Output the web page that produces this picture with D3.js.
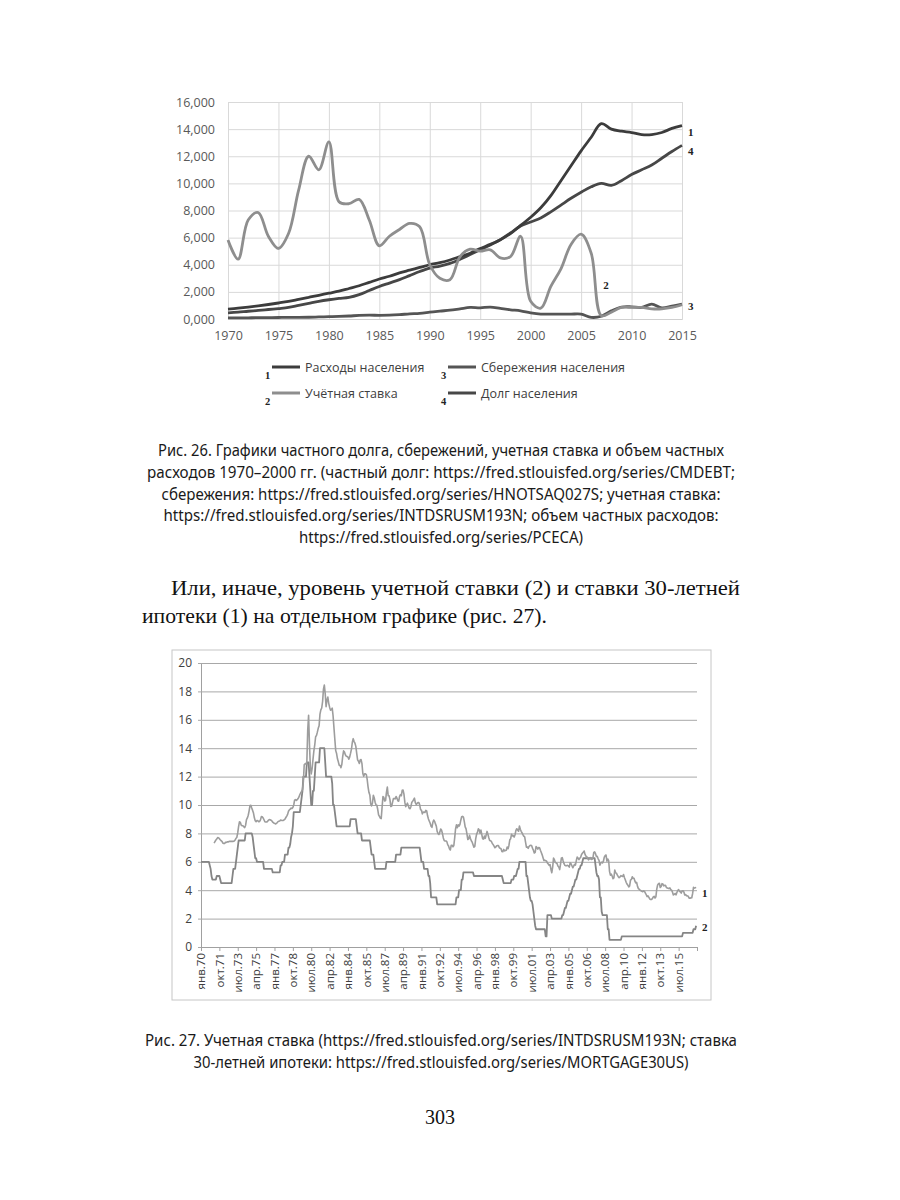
<!DOCTYPE html>
<html><head><meta charset="utf-8">
<script src="https://cdn.jsdelivr.net/npm/d3@7"></script>
<style>body{margin:0;background:#fff}svg{display:block}</style>
</head><body>
<svg id="page" width="900" height="1200"></svg>
<script>
// ================= DATA: Figure 26 (annual, thousands) =================
const years1 = [1970,1971,1972,1973,1974,1975,1976,1977,1978,1979,
  1980,1981,1982,1983,1984,1985,1986,1987,1988,1989,
  1990,1991,1992,1993,1994,1995,1996,1997,1998,1999,
  2000,2001,2002,2003,2004,2005,2006,2007,2008,2009,
  2010,2011,2012,2013,2014,2015];
// 1 — Расходы населения
const spending = [0.73,0.80,0.88,0.97,1.07,1.18,1.30,1.45,1.60,1.75,
  1.90,2.05,2.25,2.45,2.70,2.95,3.15,3.40,3.60,3.80,
  4.00,4.15,4.35,4.60,4.85,5.20,5.50,5.85,6.30,6.90,
  7.50,8.20,9.10,10.20,11.30,12.40,13.40,14.40,14.00,13.85,
  13.75,13.60,13.60,13.75,14.05,14.25];
// 2 — Учётная ставка
const discountAnnual = [5.83,4.41,7.30,7.85,6.10,5.20,6.30,9.50,12.00,11.00,
  13.06,8.65,8.50,8.82,7.30,5.40,6.10,6.60,7.05,6.80,
  4.00,3.00,2.90,4.60,5.15,5.00,5.10,4.50,4.60,6.10,
  1.30,0.80,2.40,3.70,5.50,6.25,4.85,0.25,0.50,0.85,
  0.85,0.85,0.75,0.75,0.85,1.05];
// 3 — Сбережения населения
const savings = [0.08,0.08,0.09,0.10,0.10,0.11,0.12,0.12,0.13,0.15,
  0.17,0.19,0.22,0.26,0.28,0.27,0.28,0.32,0.38,0.42,
  0.50,0.58,0.65,0.75,0.85,0.82,0.88,0.78,0.68,0.60,
  0.45,0.36,0.36,0.36,0.36,0.36,0.12,0.20,0.60,0.88,
  0.90,0.85,1.10,0.82,0.95,1.10];
// 4 — Долг населения
const debt = [0.45,0.50,0.57,0.63,0.70,0.77,0.85,1.00,1.15,1.30,
  1.42,1.52,1.60,1.80,2.10,2.40,2.65,2.90,3.20,3.50,
  3.75,3.90,4.10,4.40,4.75,5.10,5.45,5.85,6.35,6.85,
  7.15,7.45,7.90,8.40,8.90,9.35,9.75,10.00,9.85,10.20,
  10.65,11.00,11.35,11.85,12.35,12.80];
const xTicks1 = [1970,1975,1980,1985,1990,1995,2000,2005,2010,2015];
const yTicks1 = [0,2,4,6,8,10,12,14,16];
const yTickLabels1 = ["0,000","2,000","4,000","6,000","8,000","10,000","12,000","14,000","16,000"];
const legend1 = [
  {id:"s1", num:"1", name:"Расходы населения"},
  {id:"s3", num:"3", name:"Сбережения населения"},
  {id:"s2", num:"2", name:"Учётная ставка"},
  {id:"s4", num:"4", name:"Долг населения"}
];

// ================= DATA: Figure 27 (monthly, %, Jan 1970 – Mar 2017) =================
// 2 — discount rate, one row per year
const discountMonthly = [
  6,6,6,6,6,6,6,6,6,6,5.75,5.5,
  5,4.75,4.75,4.75,4.75,4.75,5,5,5,5,4.75,4.5,
  4.5,4.5,4.5,4.5,4.5,4.5,4.5,4.5,4.5,4.5,4.5,4.5,
  5,5.5,5.5,5.5,6,6.5,7,7.5,7.5,7.5,7.5,7.5,
  7.5,7.5,7.5,8,8,8,8,8,8,8,8,7.75,
  7.25,6.75,6.25,6.25,6,6,6,6,6,6,6,6,
  5.5,5.5,5.5,5.5,5.5,5.5,5.5,5.5,5.5,5.5,5.25,5.25,
  5.25,5.25,5.25,5.25,5.25,5.25,5.25,5.75,5.75,6,6,6,
  6.5,6.5,6.5,6.5,7,7,7.25,7.75,8,8.5,9.5,9.5,
  9.5,9.5,9.5,9.5,9.5,9.5,10,10.5,11,12,12,12,
  12,13,13,13,12,11,10,10,11,11,12,13,
  13,13,13,13,14,14,14,14,14,14,13,12,
  12,12,12,12,12,12,11.5,10,10,9.5,9,8.5,
  8.5,8.5,8.5,8.5,8.5,8.5,8.5,8.5,8.5,8.5,8.5,8.5,
  8.5,8.5,8.5,9,9,9,9,9,9,9,8.5,8,
  8,8,8,8,7.5,7.5,7.5,7.5,7.5,7.5,7.5,7.5,
  7.5,7.5,7,6.5,6.5,6.5,6,5.5,5.5,5.5,5.5,5.5,
  5.5,5.5,5.5,5.5,5.5,5.5,5.5,5.5,6,6,6,6,
  6,6,6,6,6,6,6,6.5,6.5,6.5,6.5,6.5,
  6.5,7,7,7,7,7,7,7,7,7,7,7,
  7,7,7,7,7,7,7,7,7,7,7,6.5,
  6,6,6,5.5,5.5,5.5,5.5,5.5,5,5,4.5,3.5,
  3.5,3.5,3.5,3.5,3.5,3.5,3,3,3,3,3,3,
  3,3,3,3,3,3,3,3,3,3,3,3,
  3,3,3,3,3.5,3.5,3.5,4,4,4,4.75,4.75,
  5.25,5.25,5.25,5.25,5.25,5.25,5.25,5.25,5.25,5.25,5.25,5.25,
  5,5,5,5,5,5,5,5,5,5,5,5,
  5,5,5,5,5,5,5,5,5,5,5,5,
  5,5,5,5,5,5,5,5,5,4.75,4.5,4.5,
  4.5,4.5,4.5,4.5,4.5,4.5,4.5,4.75,4.75,4.75,5,5,
  5,5.25,5.5,5.5,6,6,6,6,6,6,6,6,
  5,5,4.5,4,3.5,3.25,3.25,3,2.5,2,1.5,1.25,
  1.25,1.25,1.25,1.25,1.25,1.25,1.25,1.25,1.25,1.25,0.75,0.75,
  2.25,2.25,2.25,2.25,2.25,2,2,2,2,2,2,2,
  2,2,2,2,2,2.25,2.25,2.5,2.75,2.75,3,3.25,
  3.25,3.5,3.75,3.75,4,4.25,4.25,4.5,4.75,4.75,5,5.25,
  5.5,5.5,5.75,5.75,6,6.25,6.25,6.25,6.25,6.25,6.25,6.25,
  6.25,6.25,6.25,6.25,6.25,6.25,6.25,5.75,5.25,5,5,4.75,
  3.5,3.5,2.5,2.25,2.25,2.25,2.25,2.25,2.25,1.25,1.25,0.5,
  0.5,0.5,0.5,0.5,0.5,0.5,0.5,0.5,0.5,0.5,0.5,0.5,
  0.5,0.75,0.75,0.75,0.75,0.75,0.75,0.75,0.75,0.75,0.75,0.75,
  0.75,0.75,0.75,0.75,0.75,0.75,0.75,0.75,0.75,0.75,0.75,0.75,
  0.75,0.75,0.75,0.75,0.75,0.75,0.75,0.75,0.75,0.75,0.75,0.75,
  0.75,0.75,0.75,0.75,0.75,0.75,0.75,0.75,0.75,0.75,0.75,0.75,
  0.75,0.75,0.75,0.75,0.75,0.75,0.75,0.75,0.75,0.75,0.75,0.75,
  0.75,0.75,0.75,0.75,0.75,0.75,0.75,0.75,0.75,0.75,0.75,1,
  1,1,1,1,1,1,1,1,1,1,1,1.25,
  1.25,1.25,1.5
];
// 1 — 30-year mortgage rate (series starts Apr 1971)
const mortgageMonthly = [
  null,null,null,null,null,null,null,null,null,null,null,null,
  null,null,null,7.31,7.43,7.53,7.60,7.70,7.69,7.63,7.55,7.48,
  7.44,7.32,7.29,7.29,7.37,7.37,7.40,7.40,7.43,7.45,7.44,7.44,
  7.44,7.44,7.46,7.54,7.65,7.73,8.05,8.50,8.82,8.77,8.58,8.54,
  8.54,8.46,8.41,8.58,8.97,9.09,9.28,9.59,9.96,9.98,9.79,9.62,
  9.43,9.10,8.89,8.82,8.91,8.89,8.82,8.84,8.95,9.18,9.17,9.09,
  8.96,8.82,8.80,8.80,8.84,8.92,8.97,8.96,8.93,8.88,8.79,8.74,
  8.72,8.67,8.69,8.75,8.83,8.86,8.87,8.94,8.92,8.91,8.91,8.96,
  9.01,9.12,9.22,9.34,9.56,9.66,9.71,9.78,9.75,9.83,10.00,10.34,
  10.38,10.32,10.37,10.45,10.57,10.74,10.86,10.96,11.08,11.64,12.83,12.90,
  12.88,13.04,15.28,16.32,14.26,12.71,12.19,12.56,13.20,13.79,14.21,14.79,
  14.90,15.13,15.40,15.58,16.40,16.70,16.83,17.29,18.16,18.45,17.83,16.92,
  17.40,17.60,17.16,16.89,16.68,16.70,16.82,16.27,15.43,14.61,13.83,13.62,
  13.25,13.04,12.80,12.78,12.63,12.87,13.42,13.81,13.73,13.54,13.44,13.42,
  13.37,13.23,13.39,13.65,13.94,14.42,14.67,14.47,14.35,14.13,13.64,13.18,
  13.08,12.92,13.17,13.20,12.91,12.22,12.03,12.19,12.19,12.14,11.78,11.26,
  10.88,10.71,10.08,9.94,10.14,10.68,10.51,10.20,10.01,9.98,9.70,9.31,
  9.20,9.08,9.04,9.83,10.60,10.54,10.28,10.33,10.89,11.26,10.65,10.64,
  10.38,9.89,9.93,10.20,10.46,10.46,10.43,10.60,10.48,10.30,10.27,10.61,
  10.73,10.65,11.03,11.05,10.77,10.20,9.88,9.99,10.13,9.95,9.77,9.74,
  9.90,10.20,10.27,10.37,10.48,10.16,10.04,10.10,10.18,10.18,10.01,9.67,
  9.64,9.37,9.50,9.49,9.47,9.62,9.58,9.24,9.01,8.86,8.71,8.50,
  8.43,8.76,8.94,8.85,8.67,8.51,8.13,7.98,7.92,8.09,8.31,8.22,
  7.99,7.68,7.50,7.47,7.47,7.42,7.21,7.11,6.91,6.83,7.16,7.17,
  7.06,7.15,7.68,8.32,8.60,8.40,8.61,8.51,8.64,8.93,9.17,9.20,
  9.15,8.83,8.46,8.32,7.96,7.57,7.61,7.86,7.64,7.48,7.38,7.20,
  7.03,7.08,7.62,7.93,8.07,8.32,8.25,8.00,8.23,7.92,7.62,7.60,
  7.82,7.65,7.90,8.14,7.94,7.69,7.50,7.48,7.43,7.29,7.21,7.10,
  6.99,7.04,7.13,7.14,7.14,7.00,6.95,6.92,6.72,6.71,6.87,6.77,
  6.79,6.81,7.04,6.92,7.15,7.55,7.63,7.94,7.82,7.85,7.74,7.91,
  8.21,8.33,8.24,8.15,8.52,8.29,8.15,8.03,7.91,7.80,7.75,7.38,
  7.03,7.05,6.95,7.08,7.15,7.16,7.13,6.95,6.82,6.62,6.66,7.07,
  7.00,6.89,7.01,6.99,6.81,6.65,6.49,6.29,6.09,6.11,6.07,6.05,
  5.92,5.84,5.75,5.81,5.48,5.23,5.63,6.26,6.15,5.95,5.93,5.88,
  5.71,5.64,5.45,5.83,6.27,6.29,6.06,5.87,5.75,5.72,5.73,5.75,
  5.71,5.63,5.93,5.86,5.72,5.58,5.70,5.82,5.77,6.07,6.33,6.27,
  6.15,6.25,6.32,6.51,6.60,6.68,6.76,6.52,6.40,6.36,6.24,6.14,
  6.22,6.29,6.16,6.18,6.26,6.66,6.70,6.57,6.38,6.38,6.21,6.10,
  5.76,5.92,5.97,5.92,6.04,6.32,6.43,6.48,6.04,6.20,6.09,5.33,
  5.06,5.13,5.00,4.81,4.86,5.42,5.22,5.19,5.06,4.95,4.88,4.93,
  5.03,4.99,4.97,5.10,4.89,4.74,4.56,4.43,4.35,4.23,4.30,4.71,
  4.76,4.95,4.84,4.84,4.64,4.51,4.55,4.27,4.11,4.07,3.99,3.96,
  3.92,3.89,3.95,3.91,3.80,3.68,3.55,3.60,3.50,3.38,3.35,3.35,
  3.41,3.53,3.57,3.45,3.54,4.07,4.37,4.46,4.49,4.19,4.26,4.46,
  4.43,4.30,4.34,4.34,4.19,4.16,4.13,4.12,4.16,4.04,4.00,3.86,
  3.67,3.71,3.77,3.67,3.84,3.98,4.05,3.91,3.89,3.80,3.94,3.96,
  3.87,3.66,3.69,3.61,3.60,3.57,3.44,3.44,3.46,3.47,3.77,4.20,
  4.15,4.17,4.20
];
const xTickLabels2 = ["янв.70","окт.71","июл.73","апр.75","янв.77","окт.78","июл.80","апр.82",
  "янв.84","окт.85","июл.87","апр.89","янв.91","окт.92","июл.94","апр.96","янв.98","окт.99",
  "июл.01","апр.03","янв.05","окт.06","июл.08","апр.10","янв.12","окт.13","июл.15"];
const monthsPerLabel2 = 21;
const yTicks2 = [0,2,4,6,8,10,12,14,16,18,20];

// ================= TEXT =================
const caption26 = [
  "Рис. 26. Графики частного долга, сбережений, учетная ставка и объем частных",
  "расходов 1970–2000 гг. (частный долг: https://fred.stlouisfed.org/series/CMDEBT;",
  "сбережения: https://fred.stlouisfed.org/series/HNOTSAQ027S; учетная ставка:",
  "https://fred.stlouisfed.org/series/INTDSRUSM193N; объем частных расходов:",
  "https://fred.stlouisfed.org/series/PCECA)"
];
const bodyText = [
  "Или, иначе, уровень учетной ставки (2) и ставки 30-летней",
  "ипотеки (1) на отдельном графике (рис. 27)."
];
const caption27 = [
  "Рис. 27.  Учетная ставка (https://fred.stlouisfed.org/series/INTDSRUSM193N; ставка",
  "30-летней ипотеки: https://fred.stlouisfed.org/series/MORTGAGE30US)"
];
const pageNumber = "303";

// ================= DRAW =================
const svg = d3.select("#page");
svg.append("rect").attr("width",900).attr("height",1200).attr("fill","#fff");
const sansUI = "'Open Sans','Noto Sans',sans-serif";

// ---- Figure 26
const style1 = {
  s1:{stroke:"#3c3c3c", w:2.8},
  s2:{stroke:"#8e8e8e", w:2.8},
  s3:{stroke:"#555555", w:2.8},
  s4:{stroke:"#474747", w:2.8}
};
const L1 = 228, R1 = 682, T1 = 102, B1 = 319;
const x1 = d3.scaleLinear().domain([1970,2015]).range([L1,R1]);
const y1 = d3.scaleLinear().domain([0,16]).range([B1,T1]);
const g1 = svg.append("g");

g1.append("g").attr("transform",`translate(${L1},0)`)
  .call(d3.axisLeft(y1).tickValues(yTicks1).tickSize(-(R1-L1)).tickPadding(13)
    .tickFormat((d,i)=>yTickLabels1[i]))
  .call(g=>{g.select(".domain").remove();
    g.selectAll(".tick line").attr("stroke","#d9d9d9");
    g.selectAll("text").attr("fill","#595959").style("font-family",sansUI).style("font-size","12.5px");});
g1.append("g").attr("transform",`translate(0,${B1})`)
  .call(d3.axisBottom(x1).tickValues(xTicks1).tickSize(-(B1-T1)).tickPadding(12).tickFormat(d3.format("d")))
  .call(g=>{g.select(".domain").attr("stroke","#d0d0d0");
    g.selectAll(".tick line").attr("stroke","#d9d9d9");
    g.selectAll("text").attr("fill","#595959").style("font-family",sansUI).style("font-size","12.5px");});

const series1 = [
  {id:"s3", values:savings},
  {id:"s4", values:debt},
  {id:"s1", values:spending},
  {id:"s2", values:discountAnnual}
];
const line1 = d3.line().x(d=>x1(d[0])).y(d=>y1(d[1])).curve(d3.curveCatmullRom.alpha(0.5));
g1.selectAll("path.s").data(series1).join("path")
  .attr("fill","none")
  .attr("stroke",d=>style1[d.id].stroke)
  .attr("stroke-width",d=>style1[d.id].w)
  .attr("stroke-linejoin","round")
  .attr("d",d=>line1(years1.map((y,i)=>[y,d.values[i]])));

const numFont = "'Liberation Serif','DejaVu Serif',serif";
const endLabels1 = [
  {t:"1", v:spending[spending.length-1], dy:10},
  {t:"4", v:debt[debt.length-1], dy:10},
  {t:"3", v:savings[savings.length-1], dy:6}
];
g1.selectAll("text.endl").data(endLabels1).join("text")
  .attr("x",x1(2015)+6).attr("y",d=>y1(d.v)+d.dy)
  .attr("font-family",numFont).attr("font-size",11).attr("font-weight","bold").attr("fill","#222")
  .text(d=>d.t);
g1.append("text").attr("x",x1(2007.2)).attr("y",y1(2.2))
  .attr("font-family",numFont).attr("font-size",11).attr("font-weight","bold").attr("fill","#222").text("2");

const legCols = [272, 448], legRows = [367, 393];
const lg = g1.selectAll("g.leg").data(legend1).join("g")
  .attr("transform",(d,i)=>`translate(${legCols[i%2]},${legRows[Math.floor(i/2)]})`);
lg.append("line").attr("x1",0).attr("x2",28).attr("y1",0).attr("y2",0)
  .attr("stroke",d=>style1[d.id].stroke).attr("stroke-width",3);
lg.append("text").attr("x",33).attr("y",4.5).text(d=>d.name)
  .attr("font-family",sansUI).attr("font-size",12.5).attr("fill","#404040");
lg.append("text").attr("x",-7).attr("y",12).text(d=>d.num)
  .attr("font-family",numFont).attr("font-size",10.5).attr("font-weight","bold").attr("fill","#222");

// ---- Captions and body text
const capFont = "'Noto Sans','Open Sans',sans-serif";
const cap26Widths = [566, 588, 559, 555, 284];
svg.append("g").selectAll("text").data(caption26).join("text")
  .attr("x",441).attr("y",(d,i)=>456 + i*21.8)
  .attr("text-anchor","middle").attr("font-family",capFont).attr("font-size",15.5).attr("fill","#1a1a1a")
  .attr("textLength",(d,i)=>cap26Widths[i]).attr("lengthAdjust","spacingAndGlyphs")
  .text(d=>d);

const serif = "'Liberation Serif','DejaVu Serif',serif";
svg.append("text").attr("x",171).attr("y",595).attr("font-family",serif).attr("font-size",22)
  .attr("fill","#111").attr("textLength",569).attr("lengthAdjust","spacingAndGlyphs").text(bodyText[0]);
svg.append("text").attr("x",142).attr("y",623).attr("font-family",serif).attr("font-size",22)
  .attr("fill","#111").attr("textLength",405).attr("lengthAdjust","spacingAndGlyphs").text(bodyText[1]);

const cap27Widths = [592, 495];
svg.append("g").selectAll("text").data(caption27).join("text")
  .attr("x",441).attr("y",(d,i)=>1046 + i*22)
  .attr("text-anchor","middle").attr("font-family",capFont).attr("font-size",15.5).attr("fill","#1a1a1a")
  .attr("textLength",(d,i)=>cap27Widths[i]).attr("lengthAdjust","spacingAndGlyphs")
  .text(d=>d);

svg.append("text").attr("x",440).attr("y",1124).attr("text-anchor","middle")
  .attr("font-family",serif).attr("font-size",20).attr("fill","#111").text(pageNumber);

// ---- Figure 27
const L2 = 201, R2 = 697, T2 = 663, B2 = 947;
svg.append("rect").attr("x",172).attr("y",650).attr("width",539).attr("height",350)
  .attr("fill","none").attr("stroke","#c6c6c6").attr("stroke-width",1);
const nMonths = discountMonthly.length;
const x2 = d3.scaleLinear().domain([0,nMonths]).range([L2,R2]);
const y2 = d3.scaleLinear().domain([0,20]).range([B2,T2]);
const g2 = svg.append("g");

g2.append("g").attr("transform",`translate(${L2},0)`)
  .call(d3.axisLeft(y2).tickValues(yTicks2).tickSizeInner(-(R2-L2)).tickSizeOuter(0).tickPadding(9))
  .call(g=>{g.select(".domain").attr("stroke","#a0a0a0");
    g.selectAll(".tick line").attr("stroke","#a8a8a8").attr("x1",-3);
    g.selectAll("text").attr("fill","#404040").style("font-family",sansUI).style("font-size","12px");});

const xTickVals2 = xTickLabels2.map((d,i)=>i*monthsPerLabel2).concat([xTickLabels2.length*monthsPerLabel2]);
g2.append("g").attr("transform",`translate(0,${B2})`)
  .call(d3.axisBottom(x2).tickValues(xTickVals2).tickSizeInner(4).tickSizeOuter(0)
    .tickFormat((d,i)=>xTickLabels2[i]||""))
  .call(g=>{g.select(".domain").attr("stroke","#a0a0a0");
    g.selectAll(".tick line").attr("stroke","#a0a0a0");
    g.selectAll("text").attr("fill","#404040").style("font-family",sansUI).style("font-size","11.5px")
      .attr("transform","rotate(-90)").attr("text-anchor","end")
      .attr("x",-6).attr("y",0).attr("dy","0.32em");});

const line2 = d3.line().defined(d=>d[1]!=null).x(d=>x2(d[0])).y(d=>y2(d[1]));
g2.append("path").attr("fill","none").attr("stroke","#858585").attr("stroke-width",1.8)
  .attr("stroke-linejoin","round")
  .attr("d",line2(discountMonthly.map((v,i)=>[i,v])));
g2.append("path").attr("fill","none").attr("stroke","#9d9d9d").attr("stroke-width",1.6)
  .attr("stroke-linejoin","round")
  .attr("d",line2(mortgageMonthly.map((v,i)=>[i,v])));

g2.append("text").attr("x",R2+5).attr("y",y2(mortgageMonthly[nMonths-1])+10)
  .attr("font-family",numFont).attr("font-size",11).attr("font-weight","bold").attr("fill","#222").text("1");
g2.append("text").attr("x",R2+5).attr("y",y2(discountMonthly[nMonths-1])+5)
  .attr("font-family",numFont).attr("font-size",11).attr("font-weight","bold").attr("fill","#222").text("2");
</script>
</body></html>
